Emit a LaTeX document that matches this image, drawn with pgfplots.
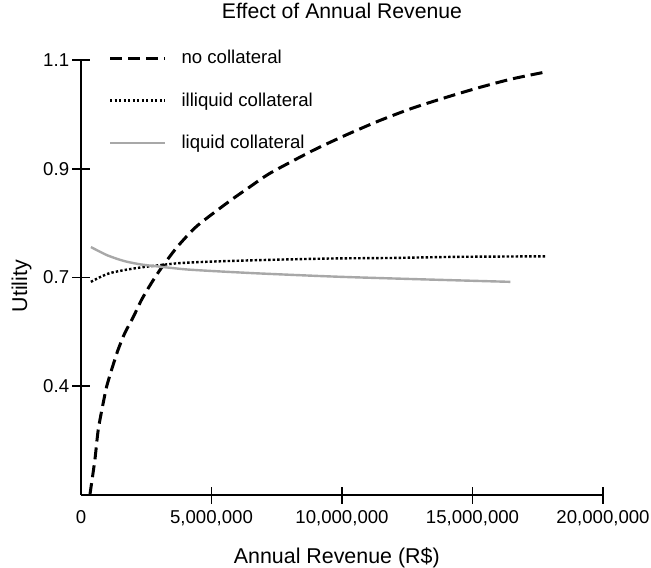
\documentclass[border=0pt]{standalone}
\usepackage{pgfplots}
\pgfplotsset{compat=1.18}
\usepackage{fontspec}
\setmainfont{Liberation Sans}
\definecolor{liq}{RGB}{168,168,168}
\begin{document}
\begin{tikzpicture}
\begin{axis}[
  at={(0,0)}, anchor=south west,
  scale only axis, width=261pt, height=217.5pt,
  xmin=0, xmax=20000000, ymin=0.3, ymax=1.1,
  axis lines=left,
  axis line style={-, line width=0.9pt},
  xtick={5000000,10000000,15000000,20000000},
  extra x ticks={0}, extra x tick style={major tick length=0pt, x tick label style={yshift=-4.25pt}},
  ytick={0.5,0.7,0.9,1.1}, yticklabels={0.4,0.7,0.9,1.1},
  tick align=center, major tick length=8.5pt,
  tick style={black, line width=0.9pt},
  scaled x ticks=false,
  /pgf/number format/assume math mode=true,
  /pgf/number format/fixed,
  /pgf/number format/1000 sep={,},
  x tick label style={anchor=base, yshift=-9.8pt, inner sep=0pt, font=\fontsize{9.3}{11}\selectfont},
  y tick label style={anchor=east, xshift=-1.5pt, inner sep=0pt, font=\fontsize{9.3}{11}\selectfont},
  title={Effect of Annual Revenue},
  title style={at={(axis description cs:0.5,1)}, anchor=base, yshift=15pt, inner sep=0pt, font=\fontsize{10.6}{12}\selectfont},
  xlabel={Annual Revenue (R\$)},
  xlabel style={at={(axis description cs:0.49,0)}, anchor=base, yshift=-34pt, inner sep=0pt, font=\fontsize{10.7}{12}\selectfont},
  ylabel={Utility},
  ylabel style={at={(axis description cs:-0.1034,0.48)}, anchor=base, inner sep=0pt, font=\fontsize{10.7}{12}\selectfont},
  legend image code/.code={\draw[#1] (0pt,2.8pt) -- (27.5pt,2.8pt);},
  legend style={draw=none, fill=none, at={(axis description cs:0.052,1.029)}, anchor=north west, inner sep=0pt, row sep=10.25pt, column sep=6.5pt,
    font=\fontsize{9.3}{11}\selectfont,
    nodes={text height=7pt, text depth=2pt, inner sep=1pt, anchor=base west}},
  legend cell align=left,
]
\addplot[black, line width=1.5pt, dash pattern=on 6pt off 3pt, smooth, tension=0.4] coordinates {
(340000,0.300) (530000,0.364) (660000,0.420) (850000,0.469) (980000,0.499)
(1170000,0.530) (1420000,0.567) (1680000,0.598) (2000000,0.627) (2320000,0.659)
(2700000,0.690) (3100000,0.719) (3700000,0.757) (4450000,0.795) (5650000,0.839)
(6450000,0.866) (7250000,0.892) (8860000,0.933) (10150000,0.962) (11410000,0.988)
(12670000,1.011) (13970000,1.031) (15230000,1.049) (16490000,1.065) (17800000,1.078)
};
\addlegendentry{no collateral}
\addplot[black, line width=1.2pt, dash pattern=on 1.2pt off 1.05pt, smooth, tension=0.4] coordinates {
(380000,0.692) (700000,0.700) (1100000,0.708) (1700000,0.714) (2370000,0.719)
(3660000,0.726) (4850000,0.729) (6830000,0.732) (9620000,0.735) (12000000,0.736)
(14400000,0.738) (17840000,0.739)
};
\addlegendentry{illiquid collateral}
\addplot[liq, line width=1.2pt, smooth, tension=0.4] coordinates {
(380000,0.756) (700000,0.748) (1000000,0.741) (1400000,0.734) (1760000,0.729)
(2300000,0.724) (3000000,0.720) (4000000,0.715) (5000000,0.712) (6600000,0.708)
(8500000,0.704) (10100000,0.701) (12800000,0.697) (16450000,0.692)
};
\addlegendentry{liquid collateral}
\end{axis}
\pgfresetboundingbox
\path[use as bounding box] (-40.5pt,-36pt) rectangle (285pt,247.5pt);
\end{tikzpicture}
\end{document}
